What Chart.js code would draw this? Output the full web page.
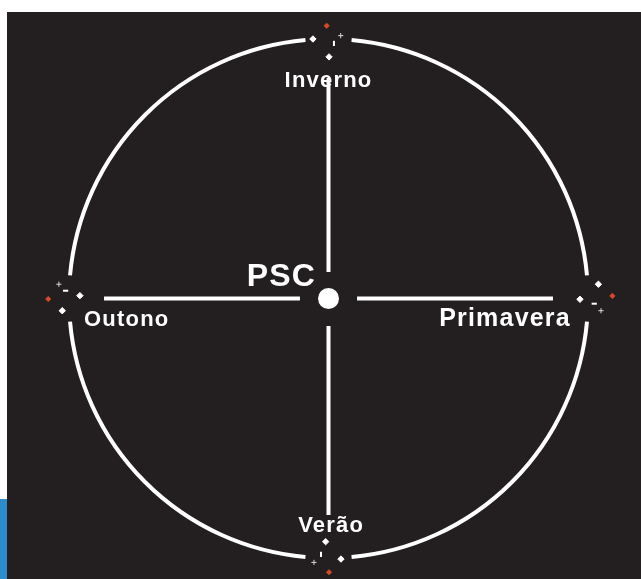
<!DOCTYPE html>
<html>
<head>
<meta charset="utf-8">
<script src="https://cdn.jsdelivr.net/npm/chart.js@4.4.1/dist/chart.umd.min.js"></script>
<style>
  html, body { margin: 0; padding: 0; background: #ffffff; overflow: hidden; }
  #fundo { position: absolute; left: 7px; top: 12px; width: 634px; height: 567px; background: #231f20; }
  #faixa { position: absolute; left: 0; top: 499px; width: 7px; height: 80px; background: #2e8bcc; }
  #caixa { position: absolute; left: 0; top: 0; width: 641px; height: 579px; }
</style>
</head>
<body>
<div id="fundo"></div>
<div id="faixa"></div>
<div id="caixa"><canvas id="ciclo"></canvas></div>
<script>
'use strict';

// estações (topo, direita, baixo, esquerda)
const estacoes = ['Inverno', 'Primavera', 'Verão', 'Outono'];
const centro = 'PSC';
const anguloEstacao = [90, 0, 270, 180];

// braços da cruz, em raios do círculo
const bracoIni = [0.102, 0.110, 0.106, 0.110];
const bracoFim = [0.850, 0.865, 0.834, 0.865];

// marcas à volta das aberturas do círculo
const marcasBrancas = [[-0.060, 1.000], [0.002, 0.931], [1.040, 0.055], [0.969, -0.003],
                       [-0.011, -0.937], [0.048, -1.004], [-0.958, 0.011], [-1.026, -0.047]];
const marcasVermelhas = [[-0.007, 1.051], [1.094, 0.010], [0.002, -1.055], [-1.080, -0.002]];
const marcasMais = [[0.047, 1.013], [1.050, -0.047], [-0.056, -1.017], [-1.039, 0.055]];
const marcasMenos = [[0.021, 0.983], [1.024, -0.020], [-0.029, -0.986], [-1.013, 0.030]];

// posição dos textos
const textoX = [0.000, 0.934, 0.010, -0.942];
const textoY = [0.815, -0.106, -0.899, -0.106];
const centroXY = [-0.048, 0.049];

const branco = '#ffffff';
const vermelho = '#d84b28';

function ponto(p) {
    return {x: p[0], y: p[1]};
}

let datasets = [];

// braços
for (let i = 0; i < estacoes.length; i++) {
    let a = anguloEstacao[i] * Math.PI / 180;
    datasets.push({
        data: [
            {x: Math.cos(a) * bracoIni[i], y: Math.sin(a) * bracoIni[i]},
            {x: Math.cos(a) * bracoFim[i], y: Math.sin(a) * bracoFim[i]}
        ],
        showLine: true,
        borderColor: branco,
        borderWidth: 4,
        borderCapStyle: 'butt',
        pointRadius: 0
    });
}

// ponto central
datasets.push({
    data: [{x: 0, y: 0}],
    pointRadius: 10.5,
    pointBackgroundColor: branco,
    pointBorderWidth: 0
});

datasets.push({
    data: marcasBrancas.map(ponto),
    pointStyle: 'rectRot',
    pointRadius: 3.2,
    pointBackgroundColor: branco,
    pointBorderColor: branco,
    pointBorderWidth: 1
});

datasets.push({
    data: marcasVermelhas.map(ponto),
    pointStyle: 'rectRot',
    pointRadius: 2.8,
    pointBackgroundColor: vermelho,
    pointBorderColor: vermelho,
    pointBorderWidth: 0.5
});

datasets.push({
    data: marcasMais.map(ponto),
    pointStyle: 'cross',
    pointRadius: 2.6,
    pointBorderColor: '#d8d8d8',
    pointBorderWidth: 1
});

datasets.push({
    data: marcasMenos.map(ponto),
    pointStyle: 'line',
    pointRadius: 2.6,
    pointRotation: [90, 0, 90, 0],
    pointBorderColor: branco,
    pointBorderWidth: 2
});

//círculo com aberturas nas estações
const circulo = {
    id: 'circulo',
    beforeDatasetsDraw(chart) {
        let ctx = chart.ctx;
        let sx = chart.scales.x, sy = chart.scales.y;
        let cx = sx.getPixelForValue(0), cy = sy.getPixelForValue(0);
        let r = sx.getPixelForValue(1) - cx;
        let abertura = 5.1 * Math.PI / 180;
        let angulos = anguloEstacao.slice().sort((a, b) => a - b).map(a => -a * Math.PI / 180);
        ctx.save();
        ctx.strokeStyle = branco;
        ctx.lineWidth = 4;
        for (let i = 0; i < angulos.length; i++) {
            let a0 = angulos[i];
            let a1 = angulos[(i + 1) % angulos.length];
            if (a1 >= a0) a1 -= 2 * Math.PI;
            ctx.beginPath();
            ctx.arc(cx, cy, r, a0 - abertura, a1 + abertura, true);
            ctx.stroke();
        }
        ctx.restore();
    },
    afterDatasetsDraw(chart) {
        let ctx = chart.ctx;
        let sx = chart.scales.x, sy = chart.scales.y;
        let alinhar = ['center', 'right', 'center', 'left'];
        let tamanho = [22, 25, 22, 22];
        ctx.save();
        ctx.fillStyle = branco;
        ctx.textBaseline = 'alphabetic';
        ctx.letterSpacing = '1.2px';
        for (let i = 0; i < estacoes.length; i++) {
            ctx.font = 'bold ' + tamanho[i] + 'px "Liberation Sans", Arial, sans-serif';
            ctx.textAlign = alinhar[i];
            ctx.fillText(estacoes[i], sx.getPixelForValue(textoX[i]), sy.getPixelForValue(textoY[i]));
        }
        ctx.font = 'bold 32px "Liberation Sans", Arial, sans-serif';
        ctx.textAlign = 'right';
        ctx.fillText(centro, sx.getPixelForValue(centroXY[0]), sy.getPixelForValue(centroXY[1]));
        ctx.restore();
    }
};

new Chart('ciclo', {
    type: 'scatter',
    data: {datasets: datasets},
    options: {
        responsive: true,
        maintainAspectRatio: false,
        animation: false,
        layout: {padding: 0, autoPadding: false},
        plugins: {
            legend: {display: false},
            tooltip: {enabled: false}
        },
        scales: {
            x: {type: 'linear', display: false, min: -1.2659, max: 1.2042},
            y: {type: 'linear', display: false, min: -1.0809, max: 1.1503}
        }
    },
    plugins: [circulo]
});
</script>
</body>
</html>
